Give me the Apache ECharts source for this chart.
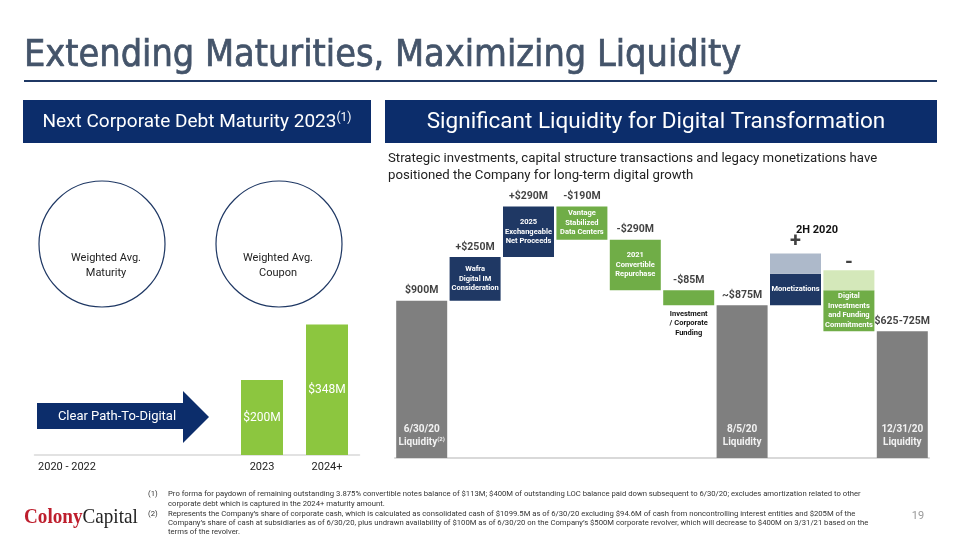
<!DOCTYPE html>
<html><head><meta charset="utf-8">
<script src="https://cdn.jsdelivr.net/npm/echarts/dist/echarts.min.js"></script>
<style>html,body{margin:0;padding:0;background:#fff}#c{width:960px;height:540px}</style>
</head><body><div id="c"></div>
<script>
// ---- Left panel: debt maturity ----
const maturityYears = ['2020 - 2022', '', '', '2023', '2024+'];
const maturityValues = [null, null, null, 200, 348];
const maturityLabels = ['', '', '', '$200M', '$348M'];

// ---- Right panel: liquidity waterfall ($M) ----
const wfCategories = ['6/30/20 Liquidity', 'Wafra Digital IM Consideration', '2025 Exchangeable Net Proceeds',
  'Vantage Stabilized Data Centers', '2021 Convertible Repurchase', 'Investment / Corporate Funding',
  '8/5/20 Liquidity', 'Monetizations', 'Digital Investments and Funding Commitments', '12/31/20 Liquidity'];
const wfBase   = [0, 900, 1150, 1250, 960, 875, 0, 875, 725, 0];
const wfChange = [900, 250, 290, 190, 290, 85, 875, 180, 235, 725];
const wfRange  = [0, 0, 0, 0, 0, 0, 0, 115, 115, 0];
const wfTop    = [900, 1150, 1440, 1440, 1250, 960, 875, 1170, 1075, 725];
const wfKinds  = ['total', 'up', 'up', 'down', 'down', 'down', 'total', 'up', 'down', 'total'];
const wfValueLabels = ['$900M', '+$250M', '+$290M', '-$190M', '-$290M', '-$85M', '~$875M', '+', '-', '$625-725M'];
const wfInnerLabels = ['6/30/20\nLiquidity{s|(2)}', 'Wafra\nDigital IM\nConsideration', '2025\nExchangeable\nNet Proceeds',
  'Vantage\nStabilized\nData Centers', '2021\nConvertible\nRepurchase', '', '8/5/20\nLiquidity', 'Monetizations',
  'Digital\nInvestments\nand Funding\nCommitments', '12/31/20\nLiquidity'];
const wfBelowLabels = ['', '', '', '', '', 'Investment\n/ Corporate\nFunding', '', '', '', ''];

const footnotes = [
  ['(1)', 'Pro forma for paydown of remaining outstanding 3.875% convertible notes balance of $113M; $400M of outstanding LOC balance paid down subsequent to 6/30/20; excludes amortization related to other'],
  ['', 'corporate debt which is captured in the 2024+ maturity amount.'],
  ['(2)', 'Represents the Company\u2019s share of corporate cash, which is calculated as consolidated cash of $1099.5M as of 6/30/20 excluding $94.6M of cash from noncontrolling interest entities and $205M of the'],
  ['', 'Company\u2019s share of cash at subsidiaries as of 6/30/20, plus undrawn availability of $100M as of 6/30/20 on the Company\u2019s $500M corporate revolver, which will decrease to $400M on 3/31/21 based on the'],
  ['', 'terms of the revolver.']
];

const NAVY = '#1F3864', GREEN = '#70AD47', GRAY = '#7F7F7F', HDR = '#0C2D6B';
const kindColor = {total: GRAY, up: NAVY, down: GREEN};
const rangeColor = {up: '#ADB9CA', down: '#D4E8BA', total: GRAY};
const FONT = 'Roboto, "Liberation Sans", sans-serif';

const chart = echarts.init(document.getElementById('c'), null, {renderer: 'canvas'});

const graphics = [];
// Title
graphics.push({type: 'text', x: 24, y: 75, style: {text: 'Extending Maturities, Maximizing Liquidity',
  font: '37.5px "Liberation Sans Narrow", "DejaVu Sans Condensed", sans-serif', fill: '#44546A',
  stroke: '#44546A', lineWidth: 0.7, verticalAlign: 'bottom'}});
graphics.push({type: 'line', shape: {x1: 24, y1: 81, x2: 937, y2: 81}, style: {stroke: '#1F3864', lineWidth: 2}});
// Headers
graphics.push({type: 'rect', shape: {x: 23, y: 100, width: 348, height: 43}, style: {fill: HDR}});
graphics.push({type: 'rect', shape: {x: 385, y: 100, width: 552, height: 43}, style: {fill: HDR}});
graphics.push({type: 'text', x: 197, y: 122, style: {text: 'Next Corporate Debt Maturity 2023{s|(1)}',
  fill: '#fff', fontSize: 19, fontFamily: FONT, align: 'center', verticalAlign: 'middle',
  rich: {s: {fontSize: 12, fill: '#fff', verticalAlign: 'top', padding: [0, 0, 8, 0], fontFamily: FONT}}}});
graphics.push({type: 'text', x: 656, y: 122, style: {text: 'Significant Liquidity for Digital Transformation',
  fill: '#fff', fontSize: 22.5, fontFamily: FONT, align: 'center', verticalAlign: 'middle'}});
// Subtitle
graphics.push({type: 'text', x: 388, y: 159, style: {text: 'Strategic investments, capital structure transactions and legacy monetizations have',
  fill: '#222', fontSize: 13.2, fontFamily: FONT, verticalAlign: 'middle'}});
graphics.push({type: 'text', x: 388, y: 176, style: {text: 'positioned the Company for long-term digital growth',
  fill: '#222', fontSize: 13.2, fontFamily: FONT, verticalAlign: 'middle'}});
// Circles
[[102, 'Weighted Avg.\nMaturity', 106], [279, 'Weighted Avg.\nCoupon', 278]].forEach(function (c) {
  graphics.push({type: 'circle', shape: {cx: c[0], cy: 244, r: 63}, style: {fill: 'none', stroke: '#1F3864', lineWidth: 1.2}});
  graphics.push({type: 'text', x: c[2], y: 266, style: {text: c[1], fill: '#222', fontSize: 11, lineHeight: 15,
    fontFamily: FONT, align: 'center', verticalAlign: 'middle'}});
});
// Arrow
graphics.push({type: 'polygon', shape: {points: [[37, 403], [183, 403], [183, 391], [209, 417], [183, 443], [183, 429], [37, 429]]},
  style: {fill: HDR}});
graphics.push({type: 'text', x: 117, y: 417, style: {text: 'Clear Path-To-Digital', fill: '#fff', fontSize: 13,
  fontFamily: FONT, align: 'center', verticalAlign: 'middle'}});
// 2H 2020
graphics.push({type: 'text', x: 817, y: 230, style: {text: '2H 2020', fill: '#111', fontSize: 11, fontWeight: 'bold',
  fontFamily: FONT, align: 'center', verticalAlign: 'middle'}});
// Footnotes
footnotes.forEach(function (f, i) {
  const y = [494, 504, 514, 523, 532][i];
  if (f[0]) graphics.push({type: 'text', x: 148, y: y, style: {text: f[0], fill: '#333', fontSize: 7.7, fontFamily: FONT, verticalAlign: 'middle'}});
  graphics.push({type: 'text', x: 168, y: y, style: {text: f[1], fill: '#333', fontSize: 7.7, fontFamily: FONT, verticalAlign: 'middle'}});
});
// Logo
graphics.push({type: 'text', x: 24, y: 517, scaleX: 0.87, style: {text: '{a|Colony}{b|Capital}', verticalAlign: 'middle',
  rich: {a: {fill: '#BE1E2D', fontSize: 22, fontWeight: 'bold', fontFamily: '"Liberation Serif", serif'},
         b: {fill: '#222', fontSize: 22, fontFamily: '"Liberation Serif", serif'}}}});
graphics.push({type: 'text', x: 918, y: 516, style: {text: '19', fill: '#999', fontSize: 11, fontFamily: FONT, align: 'center', verticalAlign: 'middle'}});

const PX = 0.1747; // px per $M in waterfall
const wfMax = 1600;

const option = {
  animation: false,
  backgroundColor: '#fff',
  graphic: graphics,
  grid: [
    {left: 34.5, right: 600.5, top: 455 - 400 * 0.375, bottom: 85},
    {left: 395, right: 31, top: 458 - wfMax * PX, bottom: 82}
  ],
  xAxis: [
    {gridIndex: 0, type: 'category', data: maturityYears,
      axisLine: {lineStyle: {color: '#D9D9D9', width: 1.5}}, axisTick: {show: false},
      axisLabel: {color: '#222', fontSize: 11, fontFamily: FONT, margin: 7, interval: 0}},
    {gridIndex: 1, type: 'category', data: wfCategories,
      axisLine: {lineStyle: {color: '#D9D9D9', width: 2}}, axisTick: {show: false}, axisLabel: {show: false}}
  ],
  yAxis: [
    {gridIndex: 0, type: 'value', min: 0, max: 400, show: false, splitLine: {show: false}},
    {gridIndex: 1, type: 'value', min: 0, max: wfMax, show: false, splitLine: {show: false}}
  ],
  series: [
    {type: 'bar', xAxisIndex: 0, yAxisIndex: 0, data: maturityValues, barWidth: 42,
      itemStyle: {color: '#8CC63F'},
      label: {show: true, position: 'inside', color: '#fff', fontSize: 12, fontFamily: FONT,
        formatter: function (p) { return maturityLabels[p.dataIndex]; }}},
    {type: 'bar', xAxisIndex: 1, yAxisIndex: 1, stack: 'wf', data: wfBase, barWidth: 51,
      itemStyle: {color: 'rgba(0,0,0,0)'},
      label: {show: true, position: 'insideTop', distance: 4, color: '#111', fontSize: 7.5, fontWeight: 'bold',
        lineHeight: 9.5, fontFamily: FONT, align: 'center',
        formatter: function (p) { return wfBelowLabels[p.dataIndex]; }}},
    {type: 'bar', xAxisIndex: 1, yAxisIndex: 1, stack: 'wf', barWidth: 51,
      data: wfChange.map(function (v, i) {
        const total = wfKinds[i] === 'total';
        return {value: v, itemStyle: {color: kindColor[wfKinds[i]]},
          label: total ? {position: 'insideBottom', distance: 9, fontSize: 10, lineHeight: 13, color: '#F2F2F2'} : {}};
      }),
      label: {show: true, position: 'inside', color: '#fff', fontSize: 7.5, fontWeight: 'bold', lineHeight: 9.5,
        fontFamily: FONT, align: 'center',
        rich: {s: {fontSize: 6, color: '#F2F2F2', fontWeight: 'bold', verticalAlign: 'top', padding: [0, 0, 6, 0]}},
        formatter: function (p) { return wfInnerLabels[p.dataIndex]; }}},
    {type: 'bar', xAxisIndex: 1, yAxisIndex: 1, stack: 'wf', barWidth: 51,
      data: wfRange.map(function (v, i) { return {value: v, itemStyle: {color: rangeColor[wfKinds[i]]}}; })},
    {type: 'scatter', xAxisIndex: 1, yAxisIndex: 1, symbolSize: 1, itemStyle: {color: 'rgba(0,0,0,0)'},
      data: wfTop.map(function (v, i) {
        const sign = wfValueLabels[i] === '+' || wfValueLabels[i] === '-';
        return {value: [i, v], label: sign ? {fontSize: 20, distance: wfValueLabels[i] === '+' ? 1 : -3} : {}};
      }),
      label: {show: true, position: 'top', distance: 4, color: '#111', fontSize: 10.5, fontWeight: 'bold', fontFamily: FONT,
        formatter: function (p) { return wfValueLabels[p.dataIndex]; }}}
  ]
};
chart.setOption(option);
</script></body></html>
